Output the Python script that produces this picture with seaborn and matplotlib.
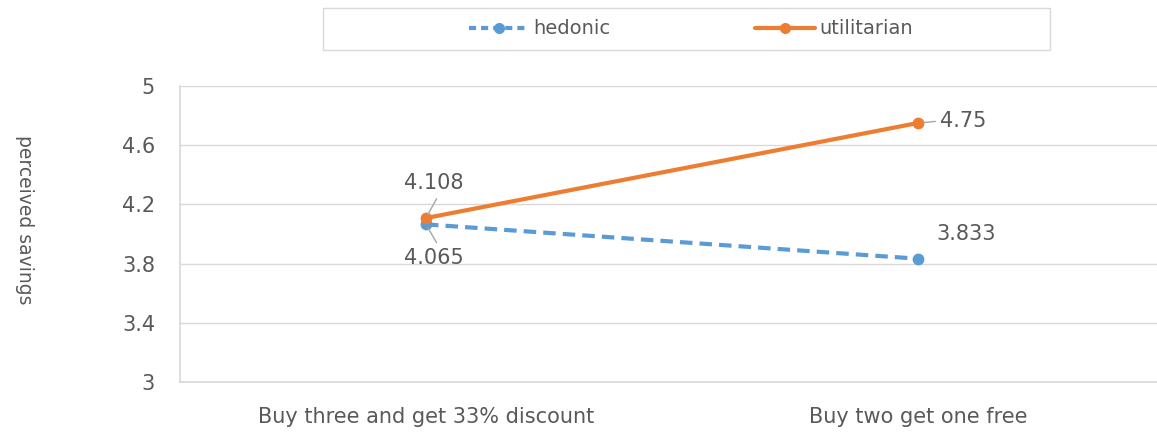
import matplotlib
matplotlib.use("Agg")
import matplotlib.pyplot as plt
import seaborn as sns
import pandas as pd
from matplotlib.lines import Line2D
from matplotlib.patches import Rectangle

categories = ["Buy three and get 33% discount", "Buy two get one free"]
hedonic = [4.065, 3.833]
utilitarian = [4.108, 4.75]
series_names = ["hedonic", "utilitarian"]
yticks = [3, 3.4, 3.8, 4.2, 4.6, 5]

sns.set_theme(style="white")
plt.rcParams['font.family'] = ['DejaVu Sans']
TXT = "#595959"

df = pd.DataFrame({
    "category": categories * 2,
    "value": hedonic + utilitarian,
    "type": [series_names[0]] * 2 + [series_names[1]] * 2,
})

fig = plt.figure(figsize=(11.57, 4.32), dpi=100)
ax = fig.add_axes([180 / 1157, 50 / 432, 984 / 1157, 296 / 432])

palette = {"hedonic": "#5B9BD5", "utilitarian": "#ED7D31"}
sns.lineplot(data=df, x="category", y="value", hue="type", style="type",
             palette=palette, dashes={"hedonic": (3, 1.7), "utilitarian": ""},
             markers={"hedonic": "o", "utilitarian": "o"}, markersize=8.5,
             markeredgewidth=0, linewidth=3, ax=ax, legend=False, sort=False,
             clip_on=False)

ax.set_xlim(-0.5, 1.5)
ax.set_ylim(3, 5)
ax.set_yticks(yticks)
ax.set_yticklabels([f"{t:g}" for t in yticks])
ax.yaxis.grid(True, color="#D9D9D9", linewidth=1)
ax.set_axisbelow(True)
for s in ["top", "right"]:
    ax.spines[s].set_visible(False)
ax.spines["left"].set_color("#D9D9D9")
ax.spines["bottom"].set_color("#D9D9D9")
ax.tick_params(axis="both", colors=TXT, length=0)
ax.tick_params(axis="x", pad=18, labelsize=15)
ax.tick_params(axis="y", pad=18, labelsize=15)
ax.set_xlabel("")
ax.set_ylabel("perceived savings", rotation=270, color=TXT, fontsize=13.5)
ax.yaxis.set_label_coords(-0.168, 0.547)

lc = "#A6A6A6"
fs = 15
ax.annotate(f"{utilitarian[0]:g}", xy=(0, utilitarian[0]), xytext=(-22, 35), textcoords="offset pixels",
            fontsize=fs, color=TXT, ha="left", va="center",
            arrowprops=dict(arrowstyle="-", color=lc, lw=1, shrinkA=2, shrinkB=3, relpos=(0.6, 0)))
ax.annotate(f"{hedonic[0]:g}", xy=(0, hedonic[0]), xytext=(-22, -34), textcoords="offset pixels",
            fontsize=fs, color=TXT, ha="left", va="center",
            arrowprops=dict(arrowstyle="-", color=lc, lw=1, shrinkA=2, shrinkB=3, relpos=(0.6, 1)))
ax.annotate(f"{utilitarian[1]:g}", xy=(1, utilitarian[1]), xytext=(22, 2), textcoords="offset pixels",
            fontsize=fs, color=TXT, ha="left", va="center",
            arrowprops=dict(arrowstyle="-", color=lc, lw=1, shrinkA=1, shrinkB=4, relpos=(0, 0.5)))
ax.annotate(f"{hedonic[1]:g}", xy=(1, hedonic[1]), xytext=(18, 25), textcoords="offset pixels",
            fontsize=fs, color=TXT, ha="left", va="center")

# legend box
fig.patches.append(Rectangle((323 / 1157, 1 - 50 / 432), 727 / 1157, 42 / 432,
                             transform=fig.transFigure, facecolor="white",
                             edgecolor="#D9D9D9", linewidth=1, zorder=0))
handles = [Line2D([], [], color=palette["hedonic"], lw=3, ls=(0, (1.7, 1.2)), marker="o",
                  markersize=8, markeredgewidth=0),
           Line2D([], [], color=palette["utilitarian"], lw=3, marker="o", markersize=8,
                  markeredgewidth=0)]
leg = fig.legend(handles, series_names, loc="center", bbox_to_anchor=(691 / 1157, 1 - 29 / 432),
                 ncol=2, frameon=False, fontsize=14, handlelength=3.1, handletextpad=0.25,
                 columnspacing=7.4, labelcolor=TXT)

fig.savefig("out.png", dpi=100)
